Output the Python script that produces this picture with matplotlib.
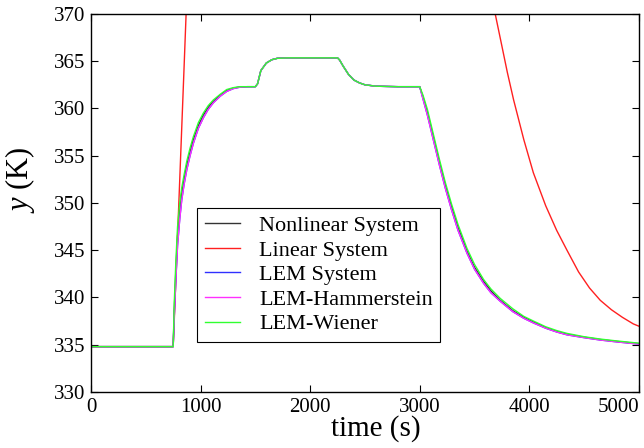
import numpy as np
import matplotlib
matplotlib.use('Agg')
import matplotlib.pyplot as plt

# time axis (s) and temperature readings (K) taken off the figure
t_rise = [0, 750, 760, 775, 790, 810, 828, 850, 874, 904, 934, 980, 1025, 1070, 1117, 1180,
          1239, 1300, 1361, 1430]
t_mid = [1500, 1520, 1550, 1600, 1650, 1700, 1800, 2000, 2250, 2270, 2300, 2350, 2400,
         2450, 2500, 2600, 2800]
t_fall = [3000, 3030, 3070, 3126, 3180, 3233, 3290, 3350, 3431, 3500, 3583, 3650, 3735,
          3850, 3950, 4039, 4150, 4250, 4344, 4500, 4648, 4800, 5014]

y_mid = [362.3, 362.6, 364.0, 364.8, 365.15, 365.3, 365.35, 365.35, 365.35, 365.1, 364.5,
         363.6, 363.0, 362.7, 362.5, 362.35, 362.3]

wiener_rise = [334.8, 334.8, 339.5, 344.0, 347.5, 350.0, 351.6, 353.0, 354.4, 355.8, 357.0,
               358.5, 359.5, 360.3, 360.9, 361.5, 362.0, 362.2, 362.3, 362.3]
lem_rise = [334.8, 334.8, 338.0, 342.0, 345.5, 348.3, 350.3, 352.0, 353.5, 355.0, 356.3,
            357.9, 359.0, 359.9, 360.6, 361.3, 361.8, 362.1, 362.25, 362.3]
nl_rise = [334.8, 334.8, 338.7, 343.0, 346.5, 349.2, 351.0, 352.5, 354.0, 355.4, 356.7,
           358.2, 359.3, 360.1, 360.75, 361.4, 361.9, 362.15, 362.28, 362.3]

wiener_fall = [362.3, 361.4, 359.9, 357.2, 354.6, 352.2, 349.9, 347.7, 345.2, 343.5, 341.9,
               340.9, 339.9, 338.8, 338.0, 337.5, 336.9, 336.5, 336.2, 335.85, 335.6, 335.4,
               335.15]
lem_fall = [362.3, 361.0, 359.3, 356.6, 354.0, 351.6, 349.3, 347.1, 344.7, 343.0, 341.5,
            340.5, 339.6, 338.5, 337.8, 337.3, 336.75, 336.35, 336.05, 335.75, 335.5, 335.3,
            335.05]
nl_fall = [362.3, 361.2, 359.6, 356.9, 354.3, 351.9, 349.6, 347.4, 344.9, 343.2, 341.7,
           340.7, 339.7, 338.6, 337.9, 337.4, 336.8, 336.4, 336.1, 335.8, 335.55, 335.35,
           335.1]

# linear model leaves the plotted range between ~870 s and ~3690 s
t_lin = [0, 750, 760, 800, 850, 868, 900, 1000, 1200, 1500, 2000, 3000, 3200, 3400, 3500,
         3600, 3689, 3750, 3800, 3857, 3950, 4037, 4150, 4250, 4344, 4450, 4550, 4648, 4750,
         4850, 4950, 5014, 5100]
y_lin = [334.8, 334.8, 337.6, 349.5, 364.5, 370.0, 379.0, 405.0, 440.0, 470.0, 485.0, 487.0,
         419.0, 393.0, 383.8, 375.8, 370.0, 366.6, 363.8, 360.9, 356.7, 353.2, 349.7, 347.1,
         345.0, 342.7, 341.0, 339.7, 338.7, 337.9, 337.2, 336.9, 336.5]

t_all = t_rise + t_mid + t_fall
nl = nl_rise + y_mid + nl_fall
lem = lem_rise + y_mid + lem_fall
ham = lem_rise + y_mid + lem_fall
wiener = wiener_rise + y_mid + wiener_fall

xticks = [0, 1000, 2000, 3000, 4000, 5000]
xtick_labels = ['0', '1000', '2000', '3000', '4000', '5000']
yticks = [330, 335, 340, 345, 350, 355, 360, 365, 370]

plt.rcParams['font.family'] = ['Liberation Serif', 'DejaVu Serif']
plt.rcParams['mathtext.fontset'] = 'custom'
plt.rcParams['mathtext.it'] = 'Liberation Serif:italic'
plt.rcParams['mathtext.rm'] = 'Liberation Serif'

fig = plt.figure(figsize=(6.44, 4.48), dpi=100)
ax = fig.add_axes([0.1413, 0.125, 0.8507, 0.844])

ax.plot(t_all, nl, color='#333333', lw=1.0, label='Nonlinear System')
ax.plot(t_lin, y_lin, color='#ff2020', lw=1.0, label='Linear System')
ax.plot(t_all, lem, color='#3030ff', lw=1.0, label='LEM System')
ax.plot(t_all, ham, color='#ff30ff', lw=1.0, label='LEM-Hammerstein')
ax.plot(t_all, wiener, color='#30ff30', lw=1.0, label='LEM-Wiener')

ax.set_xlim(0, 5000)
ax.set_ylim(330, 370)
ax.set_xticks(xticks)
ax.set_xticklabels(xtick_labels)
ax.set_yticks(yticks)
ax.tick_params(direction='in', top=True, right=True, labelsize=15, length=5, pad=4)
ax.get_xticklabels()[-1].set_horizontalalignment('right')
for s in ax.spines.values():
    s.set_linewidth(1.0)

ax.set_xlabel('time (s)', fontsize=21, labelpad=0)
ax.xaxis.set_label_coords(0.52, -0.06, transform=ax.transAxes)
ax.xaxis.label.set_verticalalignment('top')
ax.set_ylabel('$y$ (K)', fontsize=22)
ax.yaxis.set_label_coords(-0.13, 0.561, transform=ax.transAxes)
ax.yaxis.label.set_verticalalignment('center')

leg = ax.legend(loc='lower left', bbox_to_anchor=(0.193, 0.132), borderaxespad=0,
                fontsize=16, fancybox=False, framealpha=1, edgecolor='black',
                labelspacing=0.18, handlelength=1.6, handletextpad=0.85, borderpad=0.35)
leg.get_frame().set_linewidth(0.8)

fig.savefig('out.png', dpi=100)
